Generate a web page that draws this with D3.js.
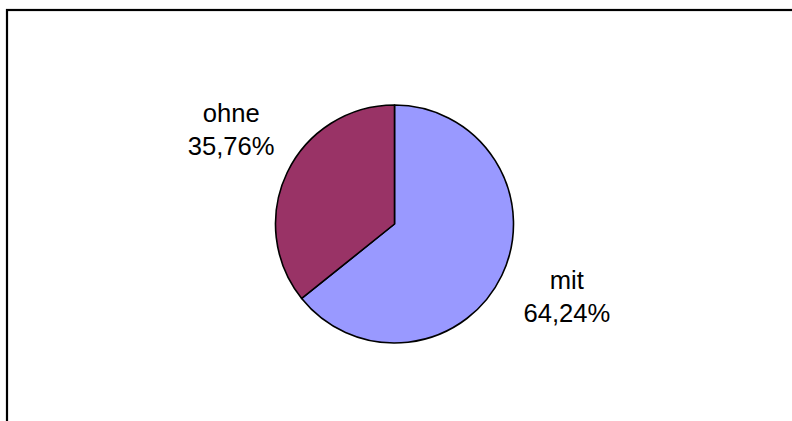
<!DOCTYPE html>
<html>
<head>
<meta charset="utf-8">
<script src="https://cdn.jsdelivr.net/npm/d3@7"></script>
<style>
  html, body { margin: 0; padding: 0; background: #fff; }
  svg { display: block; }
</style>
</head>
<body>
<svg id="chart" width="792" height="421"></svg>
<script>
const categories = ["mit", "ohne"];
const values = [64.24, 35.76];
const labels = ["64,24%", "35,76%"];
const colors = ["#9999FF", "#993366"];

const svg = d3.select("#chart");

// outer chart frame (extends past viewport on right and bottom)
svg.append("rect")
  .attr("x", 7).attr("y", 10)
  .attr("width", 820).attr("height", 440)
  .attr("fill", "none").attr("stroke", "#000").attr("stroke-width", 2.2);

const cx = 394.5, cy = 224, r = 119;
const data = categories.map((c, i) => ({ cat: c, value: values[i], label: labels[i], color: colors[i] }));

const pie = d3.pie().value(d => d.value).sort(null);
const arc = d3.arc().innerRadius(0).outerRadius(r);

const g = svg.append("g").attr("transform", `translate(${cx},${cy})`);
const arcs = pie(data);
g.selectAll("path").data(arcs).enter().append("path")
  .attr("d", arc)
  .attr("fill", d => d.data.color)
  .attr("stroke", "#000").attr("stroke-width", 1.6)
  .attr("stroke-linejoin", "round");

// labels placed outside the pie along the slice mid-angle, with small nudges
const labelArc = d3.arc().innerRadius(r * 1.42).outerRadius(r * 1.42);
const nudges = { mit: [20, -1], ohne: [-11, -21] };
const lineGap = 33;
arcs.forEach(a => {
  const [x0, y0] = labelArc.centroid(a);
  const [dx, dy] = nudges[a.data.cat];
  const x = x0 + dx, y = y0 + dy;
  const t = g.append("text")
    .attr("text-anchor", "middle")
    .attr("font-family", "Liberation Sans, Arial, sans-serif")
    .attr("font-size", 25.6)
    .attr("fill", "#000");
  t.append("tspan").attr("x", x).attr("y", y - lineGap / 2 + 9).text(a.data.cat);
  t.append("tspan").attr("x", x).attr("y", y + lineGap / 2 + 9).text(a.data.label);
});
</script>
</body>
</html>
